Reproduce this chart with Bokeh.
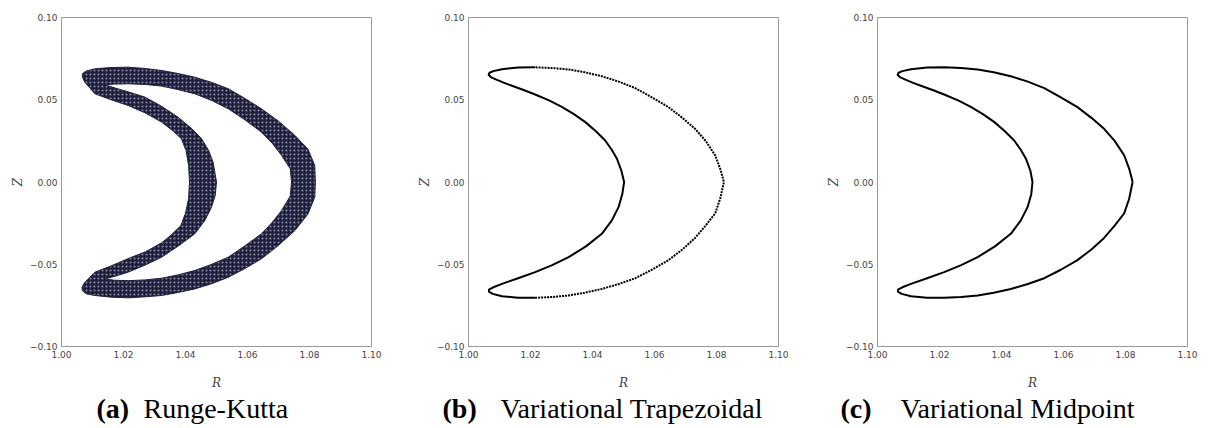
from bokeh.plotting import figure
from bokeh.layouts import row, column
from bokeh.models import Range1d, FixedTicker, CustomJSTickFormatter
from bokeh.embed import file_html
from bokeh.resources import INLINE

# ---------------- data ----------------
x_ticks = [1.00, 1.02, 1.04, 1.06, 1.08, 1.10]
y_ticks = [-0.10, -0.05, 0.00, 0.05, 0.10]

captions_tag = ["(a)", "(b)", "(c)"]
captions_text = ["Runge-Kutta", "Variational Trapezoidal", "Variational Midpoint"]
caption_tag_x = [96, 442, 840]      # page pixels where each caption starts
caption_text_x = [143, 500, 900]

# (c) Variational midpoint orbit (closed curve)
mid_R = [1.0823, 1.0812, 1.0796, 1.0765, 1.0731, 1.0690, 1.0645, 1.0590, 1.0538, 1.0485,
         1.0430, 1.0375, 1.0323, 1.0270, 1.0215, 1.0160, 1.0108, 1.0080, 1.0068, 1.0065,
         1.0072, 1.0090, 1.0115, 1.0140, 1.0180, 1.0215, 1.0260, 1.0301, 1.0340, 1.0377,
         1.0410, 1.0441, 1.0462, 1.0479, 1.0493, 1.0500, 1.0496, 1.0484, 1.0462, 1.0430,
         1.0380, 1.0323, 1.0270, 1.0215, 1.0160, 1.0108, 1.0080, 1.0066, 1.0066, 1.0078,
         1.0108, 1.0160, 1.0215, 1.0270, 1.0323, 1.0375, 1.0430, 1.0485, 1.0538, 1.0590,
         1.0645, 1.0690, 1.0731, 1.0765, 1.0796, 1.0812, 1.0823]
mid_Z = [0.0000, 0.0080, 0.0161, 0.0250, 0.0323, 0.0390, 0.0455, 0.0516, 0.0571, 0.0610,
         0.0643, 0.0667, 0.0684, 0.0693, 0.0697, 0.0696, 0.0686, 0.0674, 0.0664, 0.0652,
         0.0638, 0.0622, 0.0603, 0.0585, 0.0558, 0.0532, 0.0496, 0.0457, 0.0413, 0.0364,
         0.0310, 0.0252, 0.0196, 0.0141, 0.0070, 0.0000, -0.0075, -0.0153, -0.0235, -0.0315,
         -0.0390, -0.0457, -0.0505, -0.0548, -0.0585, -0.0619, -0.0640, -0.0654, -0.0666, -0.0680,
         -0.0695, -0.0703, -0.0704, -0.0699, -0.0690, -0.0673, -0.0650, -0.0620, -0.0585, -0.0535,
         -0.0475, -0.0410, -0.0340, -0.0265, -0.0190, -0.0100, 0.0000]

# (b) Variational trapezoidal: densely sampled part and sparsely sampled part
trap_solid_R = [1.0215, 1.0160, 1.0108, 1.0080, 1.0068, 1.0065, 1.0072, 1.0090, 1.0115, 1.0140,
                1.0180, 1.0215, 1.0260, 1.0301, 1.0340, 1.0377, 1.0410, 1.0441, 1.0462, 1.0479,
                1.0493, 1.0502, 1.0496, 1.0484, 1.0462, 1.0430, 1.0380, 1.0323, 1.0270, 1.0215,
                1.0160, 1.0108, 1.0080, 1.0066, 1.0066, 1.0078, 1.0108, 1.0160, 1.0215]
trap_solid_Z = [0.0697, 0.0696, 0.0686, 0.0674, 0.0664, 0.0652, 0.0638, 0.0622, 0.0603, 0.0585,
                0.0558, 0.0532, 0.0496, 0.0457, 0.0413, 0.0364, 0.0310, 0.0252, 0.0196, 0.0141,
                0.0070, 0.0000, -0.0075, -0.0153, -0.0235, -0.0315, -0.0390, -0.0457, -0.0505, -0.0548,
                -0.0585, -0.0619, -0.0640, -0.0654, -0.0666, -0.0680, -0.0695, -0.0703, -0.0704]
trap_dot_R = [1.0215, 1.0270, 1.0323, 1.0375, 1.0430, 1.0485, 1.0538, 1.0590, 1.0645, 1.0690,
              1.0731, 1.0765, 1.0796, 1.0812, 1.0824, 1.0812, 1.0796, 1.0765, 1.0731, 1.0690,
              1.0645, 1.0590, 1.0538, 1.0485, 1.0430, 1.0375, 1.0323, 1.0270, 1.0215]
trap_dot_Z = [-0.0704, -0.0699, -0.0690, -0.0673, -0.0650, -0.0620, -0.0585, -0.0535, -0.0475, -0.0410,
              -0.0340, -0.0265, -0.0190, -0.0100, 0.0000, 0.0080, 0.0161, 0.0250, 0.0323, 0.0390,
              0.0455, 0.0516, 0.0571, 0.0610, 0.0643, 0.0667, 0.0684, 0.0693, 0.0697]

# (a) Runge-Kutta: band of scattered points -> outer edge of the band
rk_out_R = [1.0819, 1.0817, 1.0795, 1.0753, 1.0700, 1.0645, 1.0590, 1.0538, 1.0485, 1.0430,
            1.0375, 1.0323, 1.0270, 1.0215, 1.0160, 1.0108, 1.0080, 1.0067, 1.0068, 1.0075,
            1.0108, 1.0160, 1.0215, 1.0270, 1.0323, 1.0360, 1.0387, 1.0402, 1.0410, 1.0413,
            1.0410, 1.0400, 1.0385, 1.0355, 1.0323, 1.0270, 1.0222, 1.0160, 1.0108, 1.0075,
            1.0066, 1.0067, 1.0080, 1.0108, 1.0160, 1.0215, 1.0270, 1.0323, 1.0375, 1.0430,
            1.0485, 1.0538, 1.0590, 1.0645, 1.0700, 1.0753, 1.0795, 1.0817]
rk_out_Z = [0.0000, 0.0100, 0.0200, 0.0283, 0.0370, 0.0445, 0.0510, 0.0567, 0.0605, 0.0637,
            0.0660, 0.0678, 0.0690, 0.0698, 0.0696, 0.0688, 0.0675, 0.0658, 0.0635, 0.0607,
            0.0536, 0.0500, 0.0465, 0.0420, 0.0364, 0.0310, 0.0263, 0.0190, 0.0100, 0.0000,
            -0.0100, -0.0190, -0.0265, -0.0320, -0.0370, -0.0425, -0.0460, -0.0510, -0.0548, -0.0610,
            -0.0640, -0.0660, -0.0680, -0.0690, -0.0700, -0.0704, -0.0698, -0.0690, -0.0672, -0.0650,
            -0.0618, -0.0579, -0.0528, -0.0467, -0.0385, -0.0295, -0.0195, -0.0092]
# inner edge of the band (the empty crescent in the middle)
rk_in_R = [1.0742, 1.0738, 1.0710, 1.0680, 1.0645, 1.0590, 1.0538, 1.0485, 1.0430, 1.0375,
           1.0323, 1.0270, 1.0215, 1.0170, 1.0140, 1.0175, 1.0215, 1.0269, 1.0323, 1.0376,
           1.0420, 1.0452, 1.0475, 1.0489, 1.0500, 1.0496, 1.0484, 1.0462, 1.0430, 1.0380,
           1.0323, 1.0270, 1.0215, 1.0175, 1.0140, 1.0170, 1.0215, 1.0270, 1.0323, 1.0375,
           1.0430, 1.0485, 1.0538, 1.0590, 1.0645, 1.0680, 1.0710, 1.0738]
rk_in_Z = [0.0000, 0.0080, 0.0161, 0.0235, 0.0303, 0.0380, 0.0445, 0.0495, 0.0536, 0.0562,
           0.0583, 0.0593, 0.0597, 0.0595, 0.0591, 0.0570, 0.0548, 0.0516, 0.0460, 0.0394,
           0.0325, 0.0263, 0.0190, 0.0120, 0.0000, -0.0080, -0.0153, -0.0235, -0.0315, -0.0385,
           -0.0457, -0.0505, -0.0548, -0.0572, -0.0589, -0.0597, -0.0600, -0.0595, -0.0585, -0.0565,
           -0.0538, -0.0500, -0.0457, -0.0390, -0.0315, -0.0245, -0.0173, -0.0085]

# ---------------- styling helpers ----------------
FRAME_W, FRAME_H = 310, 329
TOP, BOTTOM = 17, 46
LEFT = 61
AX_COL = "#9a9a9a"
LBL_COL = "#444444"

fmt = CustomJSTickFormatter(code="return tick.toFixed(2).replace('-', '\u2212');")


def make_fig(right):
    p = figure(width=LEFT + FRAME_W + right, height=TOP + FRAME_H + BOTTOM,
               x_range=Range1d(1.0, 1.1), y_range=Range1d(-0.1, 0.1),
               output_backend="svg", toolbar_location=None, title=None,
               min_border_left=LEFT, min_border_right=right,
               min_border_top=TOP, min_border_bottom=BOTTOM)
    p.grid.visible = False
    p.outline_line_color = AX_COL
    p.outline_line_width = 1
    p.background_fill_color = "white"
    p.border_fill_color = "white"
    p.xaxis.ticker = FixedTicker(ticks=x_ticks)
    p.yaxis.ticker = FixedTicker(ticks=y_ticks)
    for ax in (p.xaxis, p.yaxis):
        ax.formatter = fmt
        ax.axis_line_color = AX_COL
        ax.major_tick_line_color = None
        ax.minor_tick_line_color = None
        ax.major_tick_out = 0
        ax.major_tick_in = 0
        ax.major_label_text_font = "DejaVu Sans"
        ax.major_label_text_font_size = "9px"
        ax.major_label_text_color = LBL_COL
        ax.major_label_standoff = 4
        ax.axis_label_text_font = "DejaVu Serif"
        ax.axis_label_text_font_style = "italic"
        ax.axis_label_text_font_size = "12px"
        ax.axis_label_text_color = LBL_COL
    p.xaxis.axis_label = "R"
    p.yaxis.axis_label = "Z"
    p.xaxis.axis_label_standoff = 15
    p.yaxis.axis_label_standoff = 2
    return p


# (a) Runge-Kutta
pa = make_fig(36)
pa.multi_polygons(xs=[[[rk_out_R, rk_in_R]]], ys=[[[rk_out_Z, rk_in_Z]]],
                  fill_color="#1e1e3e", fill_alpha=1.0, line_color="#1e1e3e", line_width=1,
                  line_join="round", hatch_pattern="dot", hatch_color="white",
                  hatch_alpha=0.5, hatch_scale=4, hatch_weight=1)

# (b) Variational trapezoidal
pb = make_fig(38)
pb.line(trap_solid_R, trap_solid_Z, line_color="black", line_width=2, line_join="round")
pb.line(trap_dot_R, trap_dot_Z, line_color="black", line_width=2, line_cap="butt",
        line_dash="2 1")

# (c) Variational midpoint
pc = make_fig(20)
pc.line(mid_R, mid_Z, line_color="black", line_width=2, line_join="round")

# captions strip (pixel coordinates)
CAP_W, CAP_H = 1200, 34
cap = figure(width=CAP_W, height=CAP_H, x_range=Range1d(0, CAP_W), y_range=Range1d(0, CAP_H),
             output_backend="svg", toolbar_location=None, title=None,
             x_axis_location=None, y_axis_location=None,
             min_border=0, min_border_left=0, min_border_right=0,
             min_border_top=0, min_border_bottom=0)
cap.grid.visible = False
cap.outline_line_color = None
cap.background_fill_color = "white"
cap.border_fill_color = "white"
base = [18, 18, 18]
cap.text(x=caption_tag_x, y=base, text=captions_tag, text_font="Liberation Serif",
         text_font_style="bold", text_font_size="28px", text_color="black",
         text_baseline="alphabetic", text_align="left")
cap.text(x=caption_text_x, y=base, text=captions_text, text_font="Liberation Serif",
         text_font_size="28px", text_color="black",
         text_baseline="alphabetic", text_align="left")

layout = column(row(pa, pb, pc), cap)
open("out.html", "w").write(file_html(layout, INLINE))
